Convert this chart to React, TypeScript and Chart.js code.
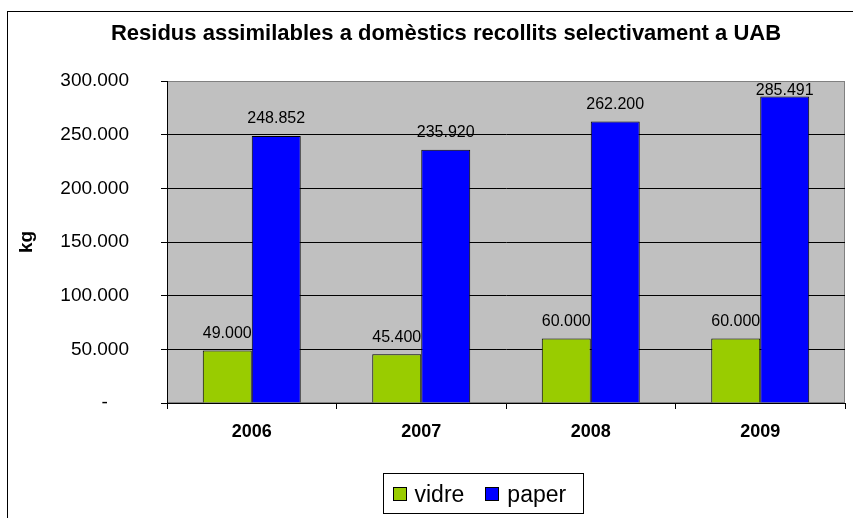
import React, { useEffect, useRef } from "react";
import { Chart, registerables } from "chart.js";

Chart.register(...registerables);

const TITLE = "Residus assimilables a domèstics recollits selectivament a UAB";
const Y_TITLE = "kg";
const YEARS = ["2006", "2007", "2008", "2009"];
const SERIES_NAMES = ["vidre", "paper"];
const VIDRE = [49000, 45400, 60000, 60000];
const PAPER = [248852, 235920, 262200, 285491];
const SERIES_COLORS = ["#99CC00", "#0000FF"];
const Y_MIN = 0;
const Y_MAX = 300000;
const Y_STEP = 50000;

const FONT = '"Liberation Sans", Arial, Helvetica, sans-serif';

function fmt(v: number): string {
  if (v === 0) return "-";
  return Math.round(v)
    .toString()
    .replace(/\B(?=(\d{3})+(?!\d))/g, ".");
}

const decor = {
  id: "decor",
  beforeDraw(chart: any) {
    const { ctx, chartArea: a } = chart;
    ctx.save();
    ctx.fillStyle = "#ffffff";
    ctx.fillRect(0, 0, chart.width, chart.height);
    ctx.strokeStyle = "#000000";
    ctx.lineWidth = 1;
    ctx.strokeRect(7.5, 11.5, chart.width + 40, chart.height + 40);
    ctx.fillStyle = "#C0C0C0";
    ctx.fillRect(a.left, a.top, a.right - a.left, a.bottom - a.top);
    ctx.strokeStyle = "#808080";
    ctx.strokeRect(a.left + 0.5, a.top + 0.5, a.right - a.left - 1, a.bottom - a.top - 1);
    ctx.restore();
  },
  afterDatasetsDraw(chart: any) {
    const { ctx, chartArea: a } = chart;
    ctx.save();
    ctx.font = `16px ${FONT}`;
    ctx.fillStyle = "#000";
    ctx.textAlign = "center";
    ctx.textBaseline = "middle";
    chart.data.datasets.forEach((ds: any, i: number) => {
      const meta = chart.getDatasetMeta(i);
      meta.data.forEach((el: any, j: number) => {
        const y = Math.max(el.y - 17, a.top + 10);
        ctx.fillText(fmt(ds.data[j]), el.x, y);
      });
    });
    ctx.restore();
  },
  afterDraw(chart: any) {
    const { ctx } = chart;
    ctx.save();
    // title
    ctx.fillStyle = "#000";
    ctx.font = `bold 22px ${FONT}`;
    ctx.textAlign = "center";
    ctx.textBaseline = "alphabetic";
    ctx.fillText(TITLE, 446, 40);
    // y axis title
    ctx.save();
    ctx.translate(32, 242);
    ctx.rotate(-Math.PI / 2);
    ctx.font = `bold 19px ${FONT}`;
    ctx.textAlign = "center";
    ctx.fillText(Y_TITLE, 0, 0);
    ctx.restore();
    // legend
    ctx.font = `23px ${FONT}`;
    const items = chart.data.datasets.map((ds: any) => ({
      label: ds.label as string,
      color: ds.backgroundColor as string,
      w: ctx.measureText(ds.label).width,
    }));
    const sw = 14, gapST = 8, gapItems = 21, padL = 9, padR = 17;
    let total = padL + padR + gapItems * (items.length - 1);
    items.forEach((it: any) => (total += sw + gapST + it.w));
    const boxH = 40;
    const boxTop = 473.5;
    const boxLeft = Math.round(483 - total / 2) + 0.5;
    ctx.strokeStyle = "#000";
    ctx.lineWidth = 1;
    ctx.strokeRect(boxLeft, boxTop, Math.round(total), boxH);
    let x = boxLeft + padL;
    ctx.textAlign = "left";
    ctx.textBaseline = "alphabetic";
    items.forEach((it: any) => {
      ctx.fillStyle = it.color;
      ctx.fillRect(Math.round(x), 487, sw, sw);
      ctx.strokeStyle = "#000";
      ctx.strokeRect(Math.round(x) + 0.5, 487.5, sw - 1, sw - 1);
      x += sw + gapST;
      ctx.fillStyle = "#000";
      ctx.fillText(it.label, x, 501.5);
      x += it.w + gapItems;
    });
    ctx.restore();
  },
};

export default function App() {
  const ref = useRef<HTMLCanvasElement | null>(null);
  useEffect(() => {
    if (!ref.current) return;
    const chart = new Chart(ref.current, {
      type: "bar",
      data: {
        labels: YEARS,
        datasets: [
          {
            label: SERIES_NAMES[0],
            data: VIDRE,
            backgroundColor: SERIES_COLORS[0],
            borderColor: "#000",
            borderWidth: 1,
          },
          {
            label: SERIES_NAMES[1],
            data: PAPER,
            backgroundColor: SERIES_COLORS[1],
            borderColor: "#000",
            borderWidth: 1,
          },
        ],
      },
      options: {
        responsive: false,
        animation: false,
        devicePixelRatio: 1,
        layout: { padding: { left: 0, top: 81, right: 8, bottom: 0 } },
        datasets: { bar: { categoryPercentage: 0.578, barPercentage: 1 } },
        plugins: {
          legend: { display: false },
          title: { display: false },
          tooltip: { enabled: false },
        },
        scales: {
          x: {
            afterFit: (s: any) => {
              s.height = 115;
            },
            grid: {
              display: true,
              drawOnChartArea: false,
              drawTicks: true,
              tickLength: 6,
              color: "#000",
              offset: true,
            },
            border: { display: true, color: "#000" },
            ticks: {
              color: "#000",
              font: { family: FONT, size: 18, weight: "bold" },
              padding: 12,
              maxRotation: 0,
            },
          },
          y: {
            min: Y_MIN,
            max: Y_MAX,
            afterFit: (s: any) => {
              s.width = 167;
            },
            grid: {
              color: (c: any) => (c.tick && c.tick.value === Y_MAX ? "#808080" : "#000"),
              tickColor: "#000",
              tickLength: 6,
              drawTicks: true,
            },
            border: { display: true, color: "#000" },
            ticks: {
              stepSize: Y_STEP,
              color: "#000",
              padding: 32,
              font: { family: FONT, size: 19 },
              callback: (v: any) =>
                Number(v) === 0 ? "-\u00a0\u00a0\u00a0\u00a0" : fmt(Number(v)),
            },
          },
        },
      },
      plugins: [decor],
    } as any);
    return () => chart.destroy();
  }, []);
  return (
    <div style={{ position: "fixed", left: 0, top: 0, width: 853, height: 518, overflow: "hidden" }}>
      <canvas ref={ref} width={853} height={518} style={{ display: "block" }} />
    </div>
  );
}
